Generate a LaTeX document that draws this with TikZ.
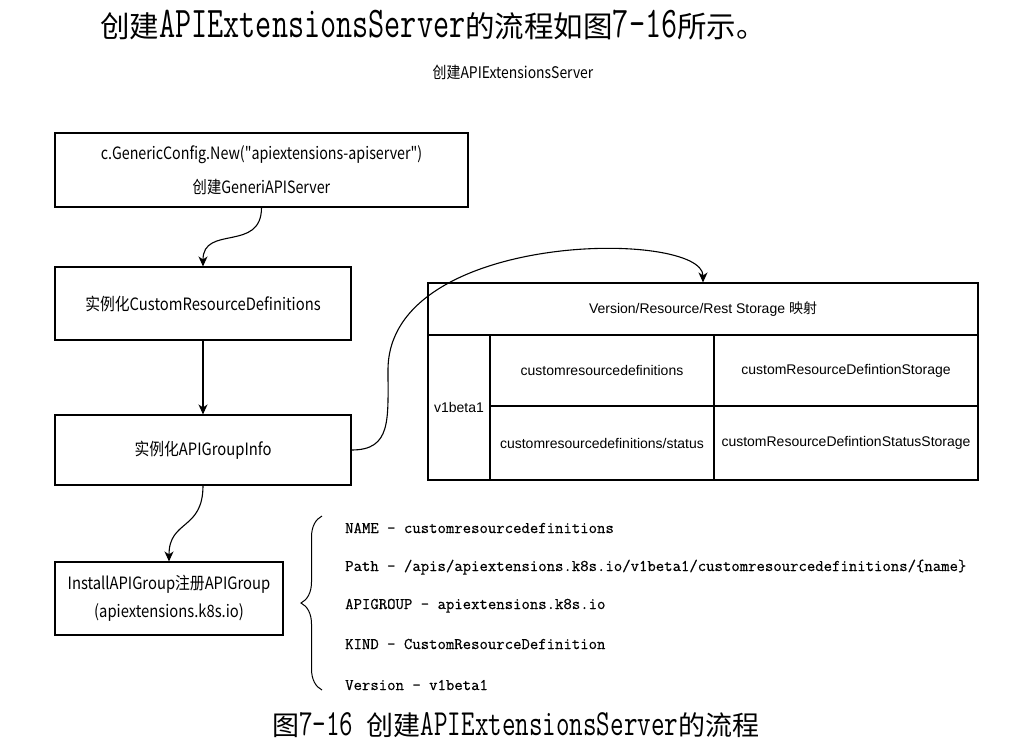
\documentclass[tikz,border=0pt]{standalone}
\usepackage{fontspec}
\usepackage{graphicx}
\usetikzlibrary{arrows.meta,decorations.pathreplacing}
\newfontfamily\cjk{Noto Sans CJK SC}
\newfontfamily\lmt{Latin Modern Mono}
\newfontfamily\lmtb{Latin Modern Mono}[FakeBold=0.5]
\newfontfamily\helv{Liberation Sans}
\newcommand\tallm[2][1.4]{\scalebox{1}[#1]{\lmt #2}}
\newcommand\cond[2][0.87]{\scalebox{#1}[1]{#2}}
\tikzset{
  box/.style={draw, line width=1.1pt, inner sep=0pt, align=center},
  cell/.style={draw, line width=1.1pt, inner sep=0pt, font=\helv\fontsize{14}{16}\selectfont},
  conn/.style={line width=1.1pt, -{Stealth[length=10pt,width=9pt,inset=3pt]}},
  boxfont/.style={font=\cjk\fontsize{17}{34}\selectfont},
  listtxt/.style={anchor=base west, inner sep=0pt, font=\lmtb\fontsize{16.3}{18}\selectfont}
}
\begin{document}
\begin{tikzpicture}[x=1pt,y=-1pt]
\useasboundingbox (0,0) rectangle (1035,744);

% heading sentence
\node[anchor=base west, inner sep=0pt] (intro) at (100,37)
  {{\cjk\fontsize{29.5}{32}\selectfont 创建}{\fontsize{31.3}{32}\selectfont\tallm{APIExtensionsServer}}{\cjk\fontsize{29.5}{32}\selectfont 的流程如图}{\fontsize{31.3}{32}\selectfont\tallm{7-16}}{\cjk\fontsize{29.5}{32}\selectfont 所示。}};

% subtitle
\node[font=\cjk\fontsize{16}{18}\selectfont] (sub) at (513,72) {\cond{创建APIExtensionsServer}};

% flow boxes
\node[box, boxfont, minimum width=413pt, minimum height=74pt] (b1) at (261.5,170)
  {\cond[0.84]{c.GenericConfig.New("apiextensions-apiserver")}\\\cond[0.84]{创建GeneriAPIServer}};
\node[box, boxfont, minimum width=296pt, minimum height=73pt] (b2) at (203,303.5)
  {\cond{实例化CustomResourceDefinitions}};
\node[box, boxfont, minimum width=296pt, minimum height=70pt] (b3) at (203,450)
  {\cond{实例化APIGroupInfo}};
\node[box, font=\cjk\fontsize{17}{28}\selectfont, minimum width=228pt, minimum height=73pt] (b4) at (169,598.5)
  {\cond{InstallAPIGroup注册APIGroup}\\\cond{(apiextensions.k8s.io)}};

% table
\node[cell, minimum width=550pt, minimum height=52pt] (hdr) at (703,309)
  {Version/Resource/Rest Storage {\cjk 映射}};
\node[cell, minimum width=62pt, minimum height=145pt] (ver) at (459,407.5) {v1beta1};
\node[cell, minimum width=224pt, minimum height=71pt] (c11) at (602,370.5) {customresourcedefinitions};
\node[cell, minimum width=264pt, minimum height=71pt] (c12) at (846,370.5) {customResourceDefintionStorage};
\node[cell, minimum width=224pt, minimum height=74pt] (c21) at (602,443) {customresourcedefinitions/status};
\node[cell, minimum width=264pt, minimum height=74pt] (c22) at (846,443) {customResourceDefintionStatusStorage};

% connectors
\draw[conn] (b1.south) .. controls +(0,45) and +(0,-42) .. (b2.north);
\draw[conn] (b2.south) -- (b3.north);
\coordinate (bend) at (388,370);
\draw[conn] (b3.east) .. controls +(40,0) and +(0,50) .. (bend)
  .. controls +(0,-140) and +(0,-53) .. (hdr.north);
\draw[conn] (b3.south) .. controls +(0,45) and +(0,-42) .. (b4.north);

% brace
\coordinate (brb) at (322,690);
\coordinate (brt) at (322,516);
\draw[line width=1pt, decorate, decoration={brace, amplitude=21pt}] (brb) -- (brt);

% list
\node[listtxt] (l1) at (345,533) {NAME - customresourcedefinitions};
\node[listtxt] (l2) at (345,571) {Path - /apis/apiextensions.k8s.io/v1beta1/customresourcedefinitions/\{name\}};
\node[listtxt] (l3) at (345,609) {APIGROUP - apiextensions.k8s.io};
\node[listtxt] (l4) at (345,649) {KIND - CustomResourceDefinition};
\node[listtxt] (l5) at (345,690) {Version - v1beta1};

% caption
\node[anchor=base west, inner sep=0pt] (cap) at (272,735)
  {{\cjk\fontsize{27}{30}\selectfont 图}{\fontsize{26.3}{30}\selectfont\tallm{7-16 }}{\cjk\fontsize{27}{30}\selectfont 创建}{\fontsize{26.3}{30}\selectfont\tallm{APIExtensionsServer}}{\cjk\fontsize{27}{30}\selectfont 的流程}};
\end{tikzpicture}
\end{document}
